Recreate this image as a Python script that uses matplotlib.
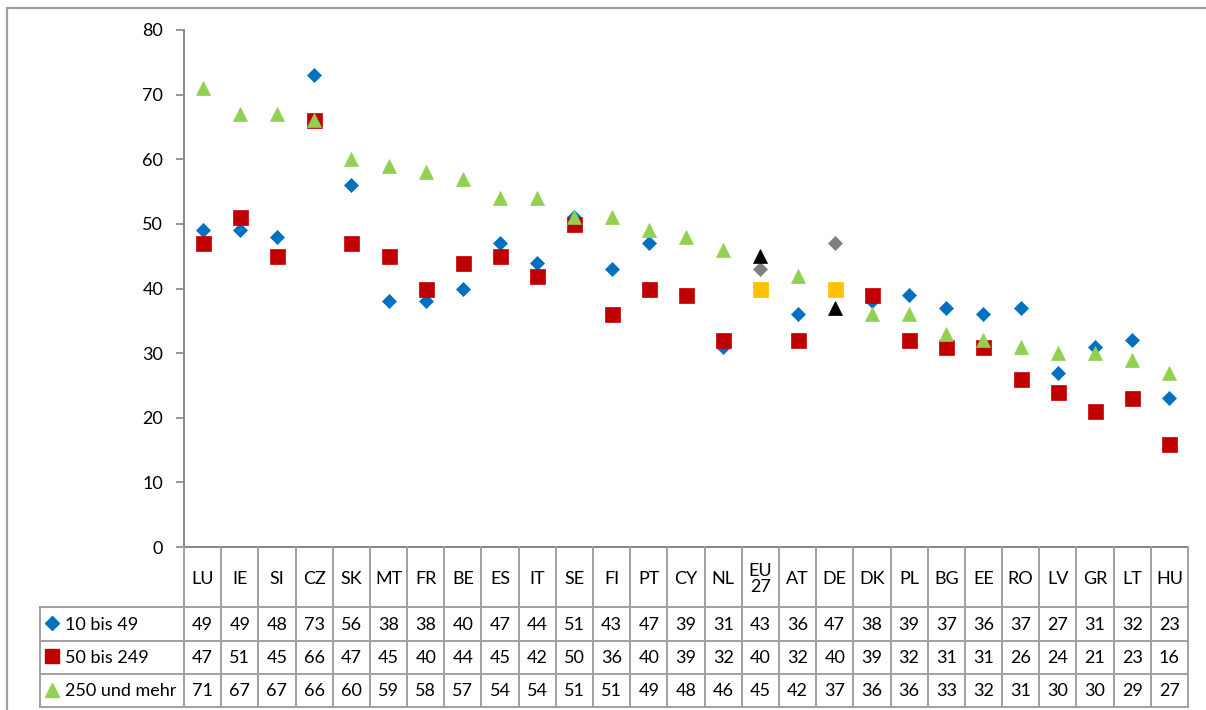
import matplotlib.pyplot as plt
from matplotlib.patches import Rectangle

countries = ['LU', 'IE', 'SI', 'CZ', 'SK', 'MT', 'FR', 'BE', 'ES', 'IT', 'SE', 'FI', 'PT', 'CY',
             'NL', 'EU\n27', 'AT', 'DE', 'DK', 'PL', 'BG', 'EE', 'RO', 'LV', 'GR', 'LT', 'HU']
small = [49, 49, 48, 73, 56, 38, 38, 40, 47, 44, 51, 43, 47, 39, 31, 43, 36, 47, 38, 39, 37, 36, 37, 27, 31, 32, 23]
medium = [47, 51, 45, 66, 47, 45, 40, 44, 45, 42, 50, 36, 40, 39, 32, 40, 32, 40, 39, 32, 31, 31, 26, 24, 21, 23, 16]
large = [71, 67, 67, 66, 60, 59, 58, 57, 54, 54, 51, 51, 49, 48, 46, 45, 42, 37, 36, 36, 33, 32, 31, 30, 30, 29, 27]
series_names = ['10 bis 49', '50 bis 249', '250 und mehr']

# EU27 and DE get their own colours
highlight = ['EU\n27', 'DE']

blue, red, green = '#0070C0', '#C00000', '#92D050'
hl_colors = ['#808080', '#FFC000', '#000000']
markers = ['D', 's', '^']
msizes = [7.4, 10.8, 10.5]
base_colors = [blue, red, green]
grid_c = '#A0A0A0'

plt.rcParams['font.family'] = ['Lato', 'DejaVu Sans']

W, H = 1206, 710
fig = plt.figure(figsize=(W / 100, H / 100), dpi=100)


def fx(p):
    return p / W


def fy(p):
    return 1 - p / H


# chart border
fig.patches.append(Rectangle((fx(7), fy(760)), fx(1300), fy(8) - fy(760), transform=fig.transFigure,
                             fill=False, edgecolor='#A0A0A0', lw=1.6))

x0, x1 = 184, 1188
ax = fig.add_axes([fx(x0), fy(547), fx(x1) - fx(x0), fy(30) - fy(547)])
n = len(countries)
xs = list(range(n))
for vals, m, ms, c, hc in zip([small, medium, large], markers, msizes, base_colors, hl_colors):
    cols = [hc if countries[i] in highlight else c for i in xs]
    for i in xs:
        ax.plot(xs[i], vals[i], marker=m, ms=ms, color=cols[i], mec=cols[i], mew=0.5, ls='none')

ax.set_xlim(-0.5, n - 0.5)
ax.set_ylim(0, 80)
ax.set_yticks(range(0, 81, 10))
ax.set_xticks([])
ax.tick_params(axis='y', direction='out', length=6, width=1.2, color='#868686', labelsize=13, pad=9)
for s in ['top', 'right']:
    ax.spines[s].set_visible(False)
for s in ['left', 'bottom']:
    ax.spines[s].set_color('#868686')
    ax.spines[s].set_linewidth(1.4)
ax.set_facecolor('none')

# data table below the plot
tax = fig.add_axes([fx(x0), fy(707), fx(x1) - fx(x0), fy(547) - fy(707)], sharex=ax)
tax.set_ylim(160, 0)
tax.axis('off')
col_w = (x1 - x0) / n
left = -0.5 - (x0 - 40) / col_w
rows = [60, 93.5, 127, 160]
lk = dict(color=grid_c, lw=1.4, clip_on=False)
for i in range(n + 1):
    tax.plot([i - 0.5, i - 0.5], [0, 160], **lk)
tax.plot([left, left], [60, 160], **lk)
for y in rows:
    tax.plot([left, n - 0.5], [y, y], **lk)

fs = 13
for i, c in enumerate(countries):
    tax.text(i, 32, c, ha='center', va='center', fontsize=fs, linespacing=1.05)
for r, vals in enumerate([small, medium, large]):
    yc = (rows[r] + rows[r + 1]) / 2 + 1
    for i, v in enumerate(vals):
        tax.text(i, yc, str(v), ha='center', va='center', fontsize=fs)
    tax.plot(left + 0.33, yc - 2, marker=markers[r], ms=msizes[r] * 0.95, color=base_colors[r], ls='none', clip_on=False)
    tax.text(left + 0.66, yc, series_names[r], ha='left', va='center', fontsize=fs)

fig.savefig('out.png', dpi=100)
